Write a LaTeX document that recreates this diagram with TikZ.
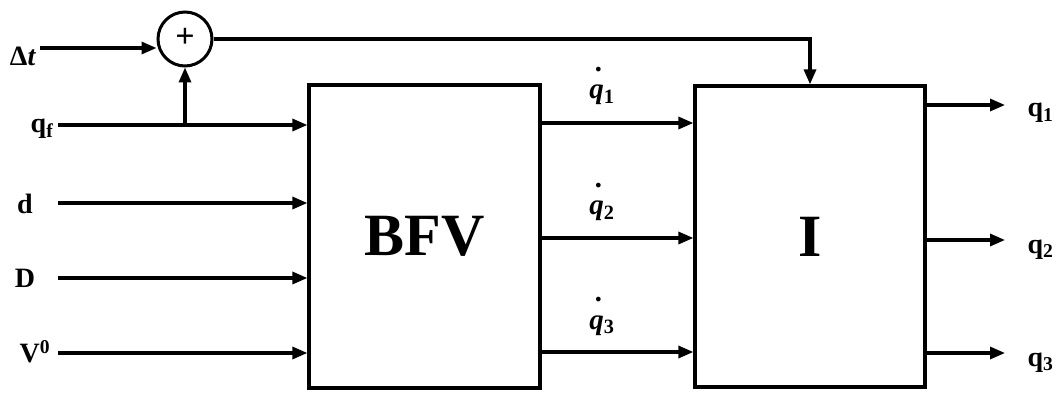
\documentclass[tikz,border=0pt]{standalone}
\usepackage{fontspec}
\setmainfont{Liberation Serif}
\usetikzlibrary{arrows.meta}
% dotted (time-derivative) q with an index
\newcommand{\dotq}[1]{\makebox[0pt][l]{\hspace{0.22em}\raisebox{0.95em}{\textit{.}}}\textit{q}\textsubscript{#1}}
\begin{document}
\begin{tikzpicture}[x=1pt,y=-1pt,
  line width=3.2pt,
  arr/.style={-{Triangle[length=15pt,width=12pt]}},
  blk/.style={draw, line width=3.2pt, inner sep=0pt},
  lab/.style={font=\fontsize{28}{32}\selectfont\bfseries, inner sep=0pt},
  dlab/.style={font=\fontsize{29}{32}\selectfont\bfseries, inner sep=0pt},
  sumnode/.style={draw, circle, line width=3pt, minimum size=54pt, inner sep=0pt,
    font=\fontsize{34}{36}\selectfont\bfseries}]
\useasboundingbox (0,0) rectangle (1059,395);

% blocks
\node[blk, minimum width=231pt, minimum height=303pt,
      font=\fontsize{60}{64}\selectfont\bfseries] (bfv) at (424.5,236.5) {BFV};
\node[blk, minimum width=230pt, minimum height=301pt,
      font=\fontsize{60}{64}\selectfont\bfseries] (int) at (810,236.5) {I};

% summing junction
\node[sumnode] (sum) at (185,39) {\raisebox{2pt}{+}};

% input labels
\node[lab] (ldt) at (23,56) {Δ\textit{t}};
\node[lab] (lqf) at (42,129) {q\textsubscript{f}};
\node[lab] (ld)  at (25,204) {d};
\node[lab] (lD)  at (25,278) {D};
\node[lab] (lV)  at (35,352) {V\textsuperscript{0}};

% input line start points
\coordinate (sqf) at (58,125);
\coordinate (sd)  at (58,203);
\coordinate (sD)  at (58,278);
\coordinate (sV)  at (58,353);
\coordinate (sdt) at (40,48);

% inputs to BFV
\draw[arr] (sqf) -- (sqf -| bfv.west);
\draw[arr] (sd)  -- (sd -| bfv.west);
\draw[arr] (sD)  -- (sD -| bfv.west);
\draw[arr] (sV)  -- (sV -| bfv.west);

% summing junction connections
\draw[arr] (sdt) -- (sdt -| sum.west);
\draw[arr] (sum.south |- sqf) -- (sum.south);
\draw[arr] (sum.east) -| (int.north);

% BFV to I
\coordinate (o1) at (540,123);
\coordinate (o2) at (540,238);
\coordinate (o3) at (540,352);
\draw[arr] (o1 -| bfv.east) -- (o1 -| int.west);
\draw[arr] (o2 -| bfv.east) -- (o2 -| int.west);
\draw[arr] (o3 -| bfv.east) -- (o3 -| int.west);
\node[dlab, anchor=base] (lq1d) at (602,99)  {\dotq{1}};
\node[dlab, anchor=base] (lq2d) at (602,215) {\dotq{2}};
\node[dlab, anchor=base] (lq3d) at (602,329) {\dotq{3}};

% outputs of I
\coordinate (e1) at (1005,105);
\coordinate (e2) at (1005,240);
\coordinate (e3) at (1005,353);
\draw[arr] (e1 -| int.east) -- (e1);
\draw[arr] (e2 -| int.east) -- (e2);
\draw[arr] (e3 -| int.east) -- (e3);
\node[lab, anchor=base west] (lq1) at (1026,117) {q\textsubscript{1}};
\node[lab, anchor=base west] (lq2) at (1026,253) {q\textsubscript{2}};
\node[lab, anchor=base west] (lq3) at (1026,366) {q\textsubscript{3}};
\end{tikzpicture}
\end{document}
